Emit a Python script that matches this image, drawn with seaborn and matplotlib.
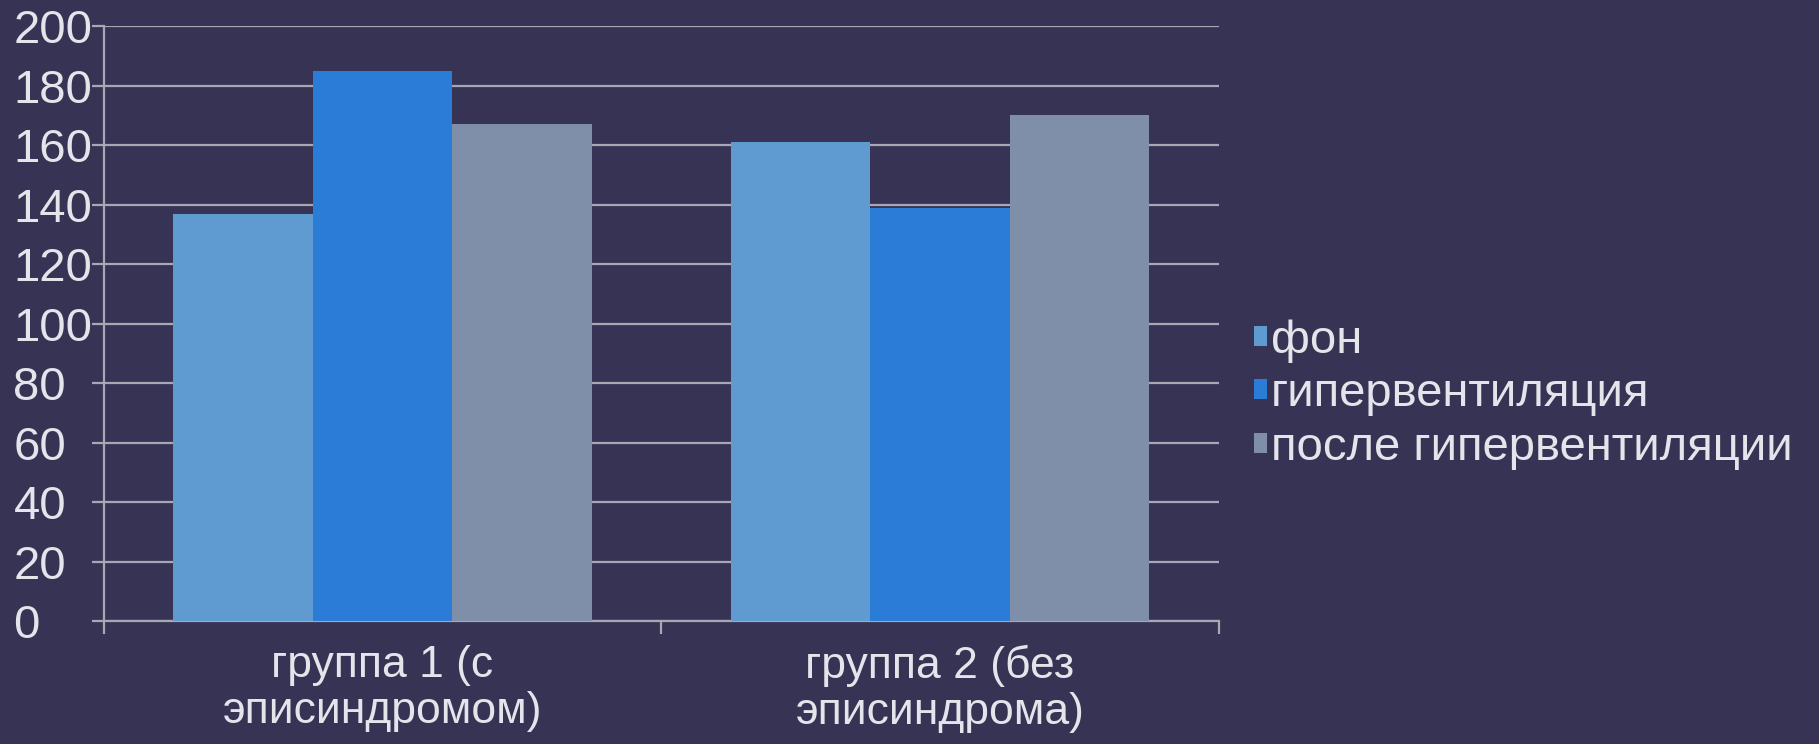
import matplotlib
matplotlib.use("Agg")
import matplotlib.pyplot as plt
import seaborn as sns
import pandas as pd
from matplotlib.ticker import FixedLocator

groups = ["группа 1 (с\nэписиндромом)", "группа 2 (без\nэписиндрома)"]
series = ["фон", "гипервентиляция", "после гипервентиляции"]
fon = [137, 161]
hyper = [185, 139]
after = [167, 170]
yticks = [0, 20, 40, 60, 80, 100, 120, 140, 160, 180, 200]

colors = ["#5f9bd1", "#2b7cd7", "#808fa9"]
bg = "#363355"
fg = "#e4e4ea"
grid_c = "#a9a7b4"

rows = []
for name, vals in zip(series, [fon, hyper, after]):
    for g, v in zip(groups, vals):
        rows.append({"group": g, "series": name, "value": v})
df = pd.DataFrame(rows)

sns.set_theme(style="white")
plt.rcParams["font.family"] = ["Liberation Sans", "DejaVu Sans"]

fig = plt.figure(figsize=(18.19, 7.44), dpi=100, facecolor=bg)
ax = fig.add_axes([0.057, 0.165, 0.613, 0.8])
ax.set_facecolor(bg)

sns.barplot(data=df, x="group", y="value", hue="series", order=groups,
            hue_order=series, palette=colors, width=0.75, gap=0,
            saturation=1, linewidth=0, ax=ax, legend=True, zorder=3)

ax.set_xlim(-0.5, 1.5)
ax.set_ylim(0, 200)
ax.set_yticks(yticks)
ax.set_yticklabels([str(t) for t in yticks])
ax.yaxis.grid(True, color=grid_c, linewidth=1.6, zorder=0)
ax.set_axisbelow(True)
ax.set_xlabel("")
ax.set_ylabel("")

for side in ["top", "right"]:
    ax.spines[side].set_visible(False)
for side in ["left", "bottom"]:
    ax.spines[side].set_color(grid_c)
    ax.spines[side].set_linewidth(1.6)

# y labels are left-aligned at the figure edge
ax.tick_params(axis="y", colors=grid_c, length=9, width=1.6, direction="out",
               labelsize=34, labelcolor=fg, pad=56, left=True)
for lbl in ax.get_yticklabels():
    lbl.set_horizontalalignment("left")

ax.tick_params(axis="x", which="major", length=0, labelsize=32,
               labelcolor=fg, pad=17)
ax.xaxis.set_minor_locator(FixedLocator([-0.5, 0.5, 1.5]))
ax.tick_params(axis="x", which="minor", bottom=True, length=9, width=1.6,
               colors=grid_c, direction="out")
for lbl in ax.get_xticklabels():
    lbl.set_linespacing(1.15)

handles, labels = ax.get_legend_handles_labels()
ax.legend(handles, labels, loc="center left", bbox_to_anchor=(0.679, 0.47),
          bbox_transform=fig.transFigure, frameon=False, fontsize=34,
          labelcolor=fg, handlelength=0.28, handleheight=0.28,
          handletextpad=0.08, labelspacing=0.2, borderaxespad=0)

fig.savefig("out.png", dpi=100, facecolor=bg)
